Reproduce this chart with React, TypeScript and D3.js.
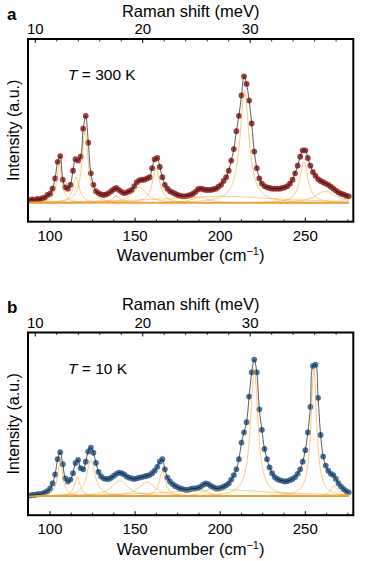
import React from "react";
import * as d3 from "d3";

// ---------- data ----------
const W_START = 88;
const W_STEP = 1.5;

const intensity300K = [
  0.02, 0.025, 0.02, 0.03, 0.025, 0.035, 0.04, 0.06, 0.07, 0.11,
  0.19, 0.32, 0.365, 0.18, 0.12, 0.11, 0.14, 0.25, 0.34, 0.33,
  0.36, 0.58, 0.68, 0.47, 0.23, 0.14, 0.09, 0.075, 0.065, 0.06,
  0.065, 0.075, 0.09, 0.105, 0.115, 0.1, 0.085, 0.075, 0.08, 0.09,
  0.1, 0.13, 0.16, 0.175, 0.18, 0.18, 0.19, 0.2, 0.27, 0.34,
  0.35, 0.28, 0.2, 0.14, 0.11, 0.09, 0.08, 0.07, 0.06, 0.055,
  0.05, 0.05, 0.055, 0.06, 0.07, 0.085, 0.105, 0.11, 0.105, 0.1,
  0.1, 0.1, 0.105, 0.11, 0.125, 0.14, 0.17, 0.2, 0.25, 0.33,
  0.42, 0.56, 0.68, 0.84, 0.99, 0.93, 0.8, 0.62, 0.4, 0.27,
  0.19, 0.15, 0.13, 0.12, 0.115, 0.11, 0.11, 0.11, 0.11, 0.115,
  0.12, 0.13, 0.15, 0.18, 0.23, 0.29, 0.36, 0.41, 0.41, 0.35,
  0.29, 0.24, 0.21, 0.185, 0.17, 0.16, 0.15, 0.14, 0.125, 0.11,
  0.095, 0.08, 0.07, 0.065, 0.055, 0.05,
];

const intensity10K = [
  0.005, 0.01, 0.01, 0.015, 0.015, 0.02, 0.03, 0.04, 0.06, 0.1,
  0.17, 0.29, 0.345, 0.25, 0.14, 0.115, 0.13, 0.18, 0.26, 0.285,
  0.22, 0.21, 0.27, 0.35, 0.38, 0.34, 0.26, 0.19, 0.155, 0.14,
  0.135, 0.135, 0.145, 0.16, 0.175, 0.185, 0.18, 0.17, 0.155, 0.145,
  0.14, 0.135, 0.14, 0.145, 0.15, 0.155, 0.16, 0.165, 0.18, 0.2,
  0.23, 0.27, 0.29, 0.21, 0.145, 0.115, 0.095, 0.08, 0.07, 0.06,
  0.055, 0.05, 0.05, 0.055, 0.06, 0.06, 0.065, 0.075, 0.09, 0.1,
  0.095, 0.08, 0.07, 0.06, 0.06, 0.065, 0.075, 0.085, 0.1, 0.13,
  0.165, 0.21, 0.29, 0.42, 0.5, 0.58, 0.78, 0.97, 1.07, 0.97,
  0.68, 0.52, 0.37, 0.29, 0.225, 0.18, 0.15, 0.135, 0.125, 0.12,
  0.115, 0.118, 0.125, 0.135, 0.15, 0.175, 0.21, 0.27, 0.36, 0.5,
  0.7, 1.02, 1.03, 0.77, 0.48, 0.31, 0.24, 0.2, 0.175, 0.165,
  0.135, 0.1, 0.075, 0.055, 0.04, 0.03,
];

// Lorentzian components (centre cm^-1, amplitude, half width)
const peakCentres300K = [105.5, 115.3, 120.6, 139, 152.5, 162.3, 188, 214.3, 249.2, 262, 200];
const peakAmps300K = [0.3, 0.2, 0.56, 0.05, 0.12, 0.27, 0.04, 0.88, 0.32, 0.09, 0.05];
const peakWidths300K = [1.8, 2.2, 2.2, 3, 5, 2.6, 6, 3.2, 2.8, 7, 40];

const peakCentres10K = [106, 116, 124, 141, 157, 166, 191, 220, 255, 267, 200];
const peakAmps10K = [0.28, 0.15, 0.28, 0.12, 0.11, 0.2, 0.04, 1.0, 1.0, 0.08, 0.05];
const peakWidths10K = [1.8, 2, 3, 6, 6, 2.2, 4, 2.6, 2.0, 2.5, 40];

const xMajorTicks = [100, 150, 200, 250];
const xMinorTicks = [112.5, 125, 137.5, 162.5, 175, 187.5, 212.5, 225, 237.5, 262.5, 275];
const meVMajorTicks = [10, 20, 30];
const meVMinorTicks = [12, 14, 16, 18, 22, 24, 26, 28, 32, 34, 36, 38];

// ---------- layout ----------
const FONT = "'Liberation Sans', Arial, Helvetica, sans-serif";
const LEFT = 28;
const RIGHT = 353.3;
const TOP = 39;
const BOTTOM = 221.7;
const PANEL_OFFSET = 293.5;

const x = d3.scaleLinear().domain([87.07, 278.2]).range([LEFT, RIGHT]);
const xMeV = d3.scaleLinear().domain([9.32, 39.6]).range([LEFT, RIGHT]);
const yBase = d3.scaleLinear().domain([-0.149, 1.282]).range([BOTTOM, TOP]);

function Panel({
  offset,
  label,
  temp,
  values,
  centres,
  amps,
  widths,
  color,
}: {
  offset: number;
  label: string;
  temp: string;
  values: number[];
  centres: number[];
  amps: number[];
  widths: number[];
  color: string;
}) {
  const y = (v: number) => yBase(v) + offset;
  const pts = values.map((v, i) => [W_START + i * W_STEP, v] as [number, number]);
  const wMax = W_START + (values.length - 1) * W_STEP;
  const grid = d3.range(W_START, wMax + 0.001, 0.25);
  const compLine = d3
    .line<[number, number]>()
    .x((d) => x(d[0]))
    .y((d) => y(d[1]));
  const fitLine = d3
    .line<[number, number]>()
    .x((d) => x(d[0]))
    .y((d) => y(d[1]))
    .curve(d3.curveCatmullRom.alpha(0.5));
  const comps = centres.map((c, k) =>
    grid.map((w) => [w, (amps[k] * widths[k] * widths[k]) / ((w - c) * (w - c) + widths[k] * widths[k])] as [number, number])
  );
  const top = TOP + offset;
  const bottom = BOTTOM + offset;
  const clipId = "clip" + label;
  return (
    <g>
      <defs>
        <clipPath id={clipId}>
          <rect x={LEFT} y={top} width={RIGHT - LEFT} height={bottom - top} />
        </clipPath>
      </defs>
      <text x={7} y={19.5 + offset} fontFamily={FONT} fontWeight="bold" fontSize={17}>
        {label}
      </text>
      <text x={(LEFT + RIGHT) / 2} y={16.7 + offset} fontFamily={FONT} fontSize={16.5} textAnchor="middle">
        Raman shift (meV)
      </text>
      {meVMajorTicks.map((t) => (
        <text key={"mt" + t} x={xMeV(t)} y={34.3 + offset} fontFamily={FONT} fontSize={15} textAnchor="middle">
          {t}
        </text>
      ))}
      <text
        transform={`translate(${14.5},${(top + bottom) / 2}) rotate(-90)`}
        fontFamily={FONT}
        fontSize={16}
        textAnchor="middle"
        dominantBaseline="middle"
      >
        Intensity (a.u.)
      </text>
      <text x={68} y={80 + offset} fontFamily={FONT} fontSize={15.5}>
        <tspan fontStyle="italic">T</tspan> = {temp}
      </text>
      <g clipPath={`url(#${clipId})`}>
        <line x1={x(W_START)} x2={x(wMax)} y1={y(0)} y2={y(0)} stroke="#eea321" strokeWidth={1.4} />
        {pts.map((p, i) => (
          <circle key={i} cx={x(p[0])} cy={y(p[1])} r={2.9} fill={color} fillOpacity={0.85} />
        ))}
        {comps.map((c, k) => (
          <path key={k} d={compLine(c) || ""} fill="none" stroke="#f2a632" strokeWidth={0.7} strokeOpacity={0.85} />
        ))}
        <path d={fitLine(pts) || ""} fill="none" stroke="#111" strokeWidth={0.8} strokeOpacity={0.85} />
      </g>
      {xMajorTicks.map((t) => (
        <line key={"xM" + t} x1={x(t)} x2={x(t)} y1={bottom} y2={bottom - 4} stroke="#000" strokeWidth={1} />
      ))}
      {xMinorTicks.map((t) => (
        <line key={"xm" + t} x1={x(t)} x2={x(t)} y1={bottom} y2={bottom - 2.5} stroke="#000" strokeWidth={0.8} />
      ))}
      {meVMajorTicks.map((t) => (
        <line key={"eM" + t} x1={xMeV(t)} x2={xMeV(t)} y1={top} y2={top + 4} stroke="#000" strokeWidth={1} />
      ))}
      {meVMinorTicks.map((t) => (
        <line key={"em" + t} x1={xMeV(t)} x2={xMeV(t)} y1={top} y2={top + 2.5} stroke="#000" strokeWidth={0.8} />
      ))}
      <rect x={LEFT} y={top} width={RIGHT - LEFT} height={bottom - top} fill="none" stroke="#000" strokeWidth={2} />
      {xMajorTicks.map((t) => (
        <text key={"xt" + t} x={x(t)} y={240.7 + offset} fontFamily={FONT} fontSize={15} textAnchor="middle">
          {t}
        </text>
      ))}
      <text x={(LEFT + RIGHT) / 2} y={261 + offset} fontFamily={FONT} fontSize={16.5} textAnchor="middle">
        Wavenumber (cm
        <tspan baselineShift="super" fontSize={11}>
          −1
        </tspan>
        )
      </text>
    </g>
  );
}

export default function App() {
  return (
    <div style={{ position: "absolute", left: 0, top: 0, width: 382, height: 561, background: "#fff" }}>
      <svg width={382} height={561} viewBox="0 0 382 561">
        <rect width={382} height={561} fill="#fff" />
        <Panel
          offset={0}
          label="a"
          temp="300 K"
          values={intensity300K}
          centres={peakCentres300K}
          amps={peakAmps300K}
          widths={peakWidths300K}
          color="#922020"
        />
        <Panel
          offset={PANEL_OFFSET}
          label="b"
          temp="10 K"
          values={intensity10K}
          centres={peakCentres10K}
          amps={peakAmps10K}
          widths={peakWidths10K}
          color="#2b5a8a"
        />
      </svg>
    </div>
  );
}
